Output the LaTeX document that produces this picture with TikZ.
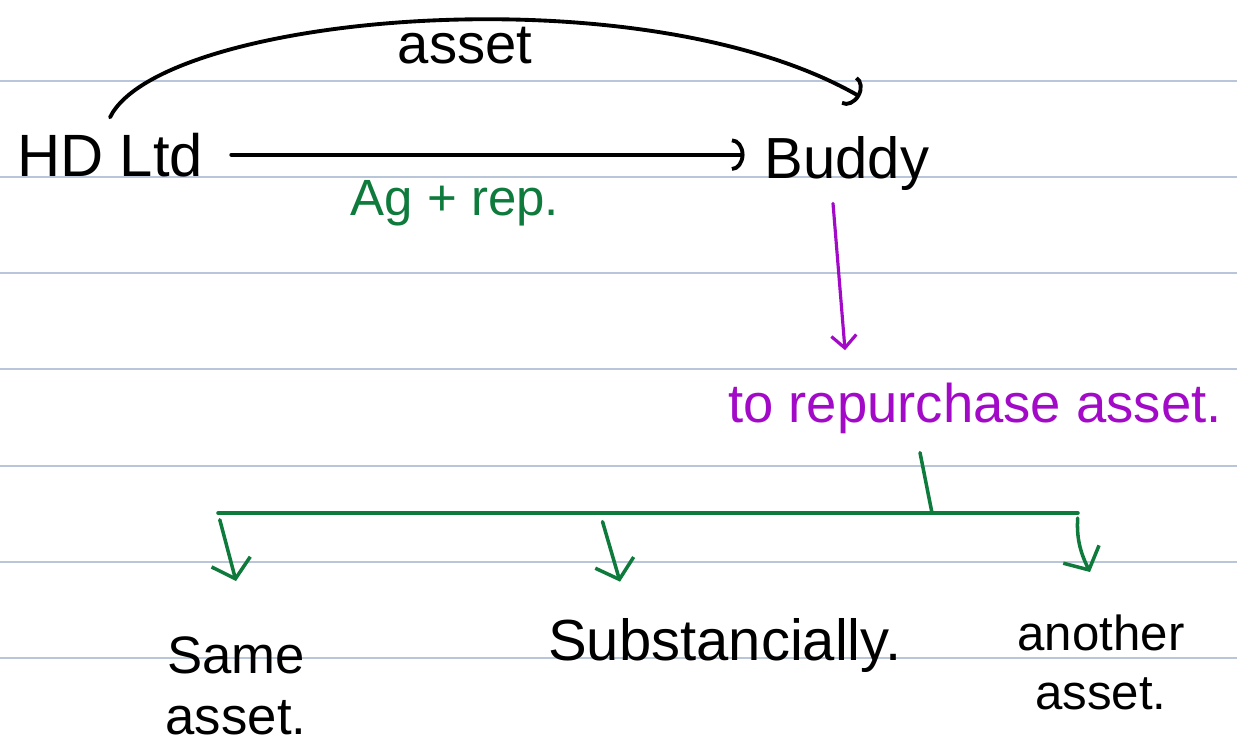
\documentclass[tikz,border=0pt]{standalone}
\usepackage{fontspec}
\setmainfont{Liberation Sans}
\usetikzlibrary{arrows.meta}
\definecolor{verde}{HTML}{0E7A3C}
\definecolor{morado}{HTML}{A20AC8}
\definecolor{renglon}{HTML}{B9C5D9}

\begin{document}
\begin{tikzpicture}[x=0.02cm, y=-0.02cm,
    letra/.style={font=\fontsize{#1}{38}\selectfont, inner sep=0pt, anchor=base},
    letra/.default=31,
    trazo/.style={line width=2.2pt, line cap=round},
    flecha/.style={trazo, -{Arc Barb[length=2.5mm, width=6.5mm, line width=2.2pt]}},
    flechav/.style={trazo, verde, line width=2pt, -{Straight Barb[length=3.5mm, width=8mm, line width=2pt]}},
    flecham/.style={trazo, morado, line width=1.8pt, -{Straight Barb[length=2.5mm, width=5mm, line width=1.8pt]}}]
    \useasboundingbox (0,0) rectangle (1237,752);

    % Renglones
    \foreach \y in {81, 177, 273, 369, 466, 562, 658}
        \draw[renglon, line width=0.8pt] (0,\y) -- (1237,\y);

    % Arriba
    \node[letra=34] (hd) at (110,176) {HD Ltd};
    \node[letra=33] (buddy) at (847,178) {Buddy};
    \node[letra=32] (activo) at (465,63) {asset};
    \node[letra=29, verde] (acuerdo) at (455,215) {Ag + rep.};
    \draw[flecha, shorten <=0.56cm, shorten >=0.4cm] (hd.east) -- (hd.east -| buddy.west);
    \draw[flecha] ([yshift=0.3cm]hd.north) .. controls (160,15) and (640,-30) .. ([xshift=0.26cm, yshift=0.78cm]buddy.north);

    % Recompra
    \node[letra=31, morado] (recompra) at (975,422) {to repurchase asset.};
    \draw[flecham] ([xshift=-0.28cm, yshift=-0.26cm]buddy.south) -- ([xshift=-2.6cm, yshift=0.64cm]recompra.north);

    % Ramas
    \coordinate (barL) at (218,513);
    \coordinate (barS) at (600,513);
    \coordinate (barM) at (932,513);
    \coordinate (barR) at (1078,513);
    \draw[trazo, verde, line width=2pt] (barL) -- (barR);
    \draw[trazo, verde, line width=2pt] ([xshift=-1.1cm, yshift=-0.38cm]recompra.south) -- (barM);

    \node[font=\fontsize{30}{35}\selectfont, inner sep=0pt, anchor=north, align=center] (mismo) at (236,636) {Same\\asset.};
    \node[letra=33] (similar) at (725,660) {Substancially.};
    \node[font=\fontsize{28}{34}\selectfont, inner sep=0pt, anchor=north, align=center] (otro) at (1101,614) {another\\asset.};

    \draw[flechav, shorten <=0.14cm] (barL) -- ([xshift=0cm, yshift=1.1cm]mismo.north);
    \draw[flechav, shorten <=0.18cm] (barS) -- ([xshift=-2.1cm, yshift=0.72cm]similar.north);
    \draw[flechav, shorten <=0.1cm] (barR) to[bend right=15] ([xshift=-0.22cm, yshift=0.84cm]otro.north);
\end{tikzpicture}
\end{document}
